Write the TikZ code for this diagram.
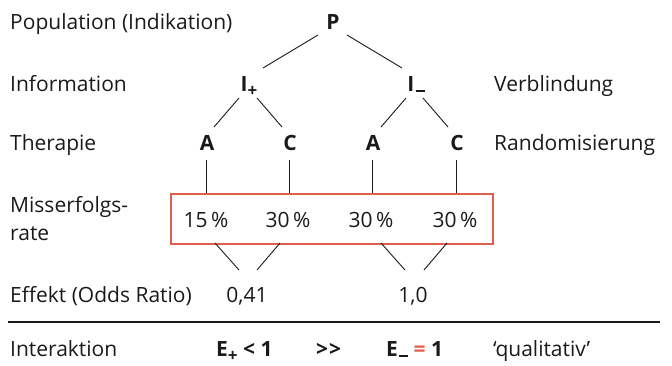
\documentclass[tikz,border=0pt]{standalone}
\usepackage{fontspec}
\setmainfont{Open Sans}
\definecolor{boxred}{HTML}{DE5F4C}
\definecolor{ink}{HTML}{1A1A1A}
\newcommand{\subp}{\raisebox{-0.26em}{\fontsize{17}{17}\selectfont\bfseries +}}
\newcommand{\subm}{\kern1.2pt\rule[-1pt]{9pt}{2.2pt}}
\begin{document}
\begin{tikzpicture}[x=1pt,y=-1pt,
  every node/.style={inner sep=0pt,text=ink,font=\fontsize{21}{25}\selectfont},
  lbl/.style={anchor=base west},
  ctr/.style={anchor=base},
  bl/.style={anchor=base,font=\fontsize{21}{25}\selectfont\bfseries},
  conn/.style={draw=ink,line width=0.9pt},
  rbox/.style={draw=boxred,line width=2pt}]
\useasboundingbox (0,0) rectangle (672,365);
% left labels
\node[lbl] (lpop) at (10,29) {Population (Indikation)};
\node[lbl] (linf) at (10,91) {Information};
\node[lbl] (lther) at (10,150) {Therapie};
\node[lbl] (lmis1) at (10,212) {Misserfolgs-};
\node[lbl] (lmis2) at (10,240) {rate};
\node[lbl] (leff) at (10,302) {Effekt (Odds Ratio)};
\node[lbl] (lint) at (10,356) {Interaktion};
% right labels
\node[lbl] (rver) at (494,91) {Verblindung};
\node[lbl] (rran) at (494,150) {Randomisierung};
% tree
\node[bl] (P) at (333,29) {P};
\node[bl] (Ip) at (249,91) {I\subp};
\node[bl] (Im) at (416,91) {I\subm};
\node[bl] (A1) at (207,150) {A};
\node[bl] (C1) at (290,150) {C};
\node[bl] (A2) at (373,150) {A};
\node[bl] (C2) at (457,150) {C};
% box
\node[rbox,anchor=north west,minimum width=322pt,minimum height=50pt] (box) at (170,193) {};
\node[ctr] (r1) at (206,227) {15\,\%};
\node[ctr] (r2) at (288,227) {30\,\%};
\node[ctr] (r3) at (371,227) {30\,\%};
\node[ctr] (r4) at (455,227) {30\,\%};
% effects
\node[ctr] (e1) at (247,302) {0,41};
\node[ctr] (e2) at (413,302) {1,0};
% connectors
\coordinate (pa) at (318,35); \coordinate (pb) at (263,68);
\coordinate (pc) at (347,35); \coordinate (pd) at (402,68);
\draw[conn] (pa) -- (pb);
\draw[conn] (pc) -- (pd);
\coordinate (ia) at (239,98); \coordinate (ib) at (214,127);
\coordinate (ic) at (257,98); \coordinate (id) at (282,127);
\coordinate (ie) at (406,98); \coordinate (if) at (381,127);
\coordinate (ig) at (423,98); \coordinate (ih) at (448,127);
\draw[conn] (ia) -- (ib);
\draw[conn] (ic) -- (id);
\draw[conn] (ie) -- (if);
\draw[conn] (ig) -- (ih);
\foreach \n/\x in {A1/206,C1/289,A2/372,C2/456}{
  \draw[conn] (\x,160) -- (\x,193);
}
\coordinate (ea) at (215,243); \coordinate (eb) at (239,270);
\coordinate (ec) at (280,243); \coordinate (ed) at (257,270);
\coordinate (ee) at (381,243); \coordinate (ef) at (405,270);
\coordinate (eg) at (447,243); \coordinate (eh) at (424,270);
\draw[conn] (ea) -- (eb);
\draw[conn] (ec) -- (ed);
\draw[conn] (ee) -- (ef);
\draw[conn] (eg) -- (eh);
% rule
\coordinate (ra) at (8,322); \coordinate (rb) at (660,322);
\draw[draw=ink,line width=1.1pt] (ra) -- (rb);
% bottom row
\node[bl,anchor=base west] (Ep) at (216,356) {E\subp\ {<}\ 1};
\node[bl,anchor=base west] (gg) at (316,356) {>\kern1pt>};
\node[bl,anchor=base west] (Em) at (386,356) {E\subm\ \textcolor{boxred}{=}\ 1};
\node[lbl] (qual) at (493,356) {‘qualitativ’};
\end{tikzpicture}
\end{document}
